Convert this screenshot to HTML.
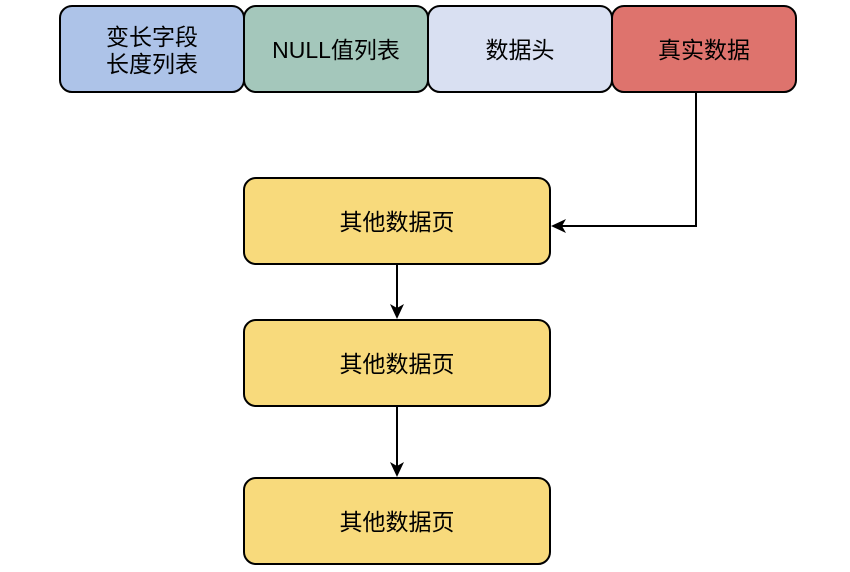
<!DOCTYPE html>
<html><head><meta charset="utf-8"><style>
body{margin:0;background:#fff;}
svg text{font-family:"Liberation Sans","Noto Sans CJK SC",sans-serif;font-size:23px;fill:#000;text-anchor:middle;dominant-baseline:central;}
</style></head><body>
<svg width="850" height="567" xmlns="http://www.w3.org/2000/svg">
<g stroke="#000" stroke-width="2">
<rect x="60" y="6" width="184" height="86" rx="12" fill="#adc3e8"/>
<rect x="244" y="6" width="184" height="86" rx="12" fill="#a4c7bb"/>
<rect x="428" y="6" width="184" height="86" rx="12" fill="#d9e0f2"/>
<rect x="612" y="6" width="184" height="86" rx="12" fill="#de736d"/>
<rect x="244" y="178" width="306" height="86" rx="12" fill="#f8da7c"/>
<rect x="244" y="320" width="306" height="86" rx="12" fill="#f8da7c"/>
<rect x="244" y="478" width="306" height="86" rx="12" fill="#f8da7c"/>
<polyline points="696,92 696,226 562,226" fill="none"/>
<line x1="397" y1="264" x2="397" y2="308"/>
<line x1="397" y1="406" x2="397" y2="466"/>
</g>
<g fill="#000">
<polygon points="551,226 566,219 562,226 566,233"/>
<polygon points="397,319 390,304 397,308 404,304"/>
<polygon points="397,477 390,462 397,466 404,462"/>
</g>
<text x="152" y="37">变长字段</text>
<text x="152" y="64">长度列表</text>
<text x="336" y="50">NULL值列表</text>
<text x="520" y="50">数据头</text>
<text x="704" y="50">真实数据</text>
<text x="397" y="222">其他数据页</text>
<text x="397" y="364">其他数据页</text>
<text x="397" y="522">其他数据页</text>
</svg>
</body></html>
